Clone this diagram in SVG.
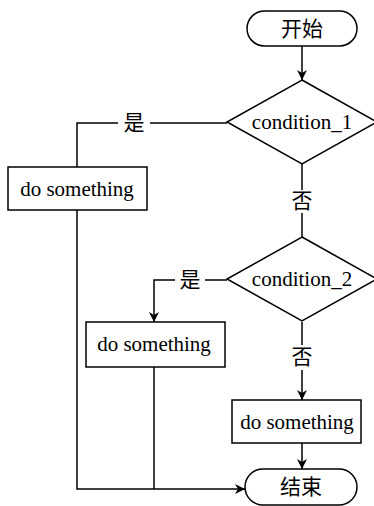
<svg xmlns="http://www.w3.org/2000/svg" width="374" height="506" viewBox="0 0 374 506">
<style>
.s{fill:#fff;stroke:#000;stroke-width:1.5}
.l{fill:none;stroke:#000;stroke-width:1.5}
text{font-family:"Liberation Serif","Noto Sans CJK SC",serif;font-size:21px;fill:#000;text-anchor:middle;dominant-baseline:central}
</style>
<defs>
<marker id="a" viewBox="0 0 10 10" refX="10" refY="5" markerWidth="10" markerHeight="10" markerUnits="userSpaceOnUse" orient="auto">
<path d="M0,0 L10,5 L0,10 L3,5 Z" fill="#000"/>
</marker>
</defs>
<rect width="374" height="506" fill="#fff"/>
<g id="connectors">
<line class="l" x1="302" y1="46" x2="302" y2="80" marker-end="url(#a)"/>
<polyline class="l" points="227,123 150,123"/>
<polyline class="l" points="118,123 77,123 77,167"/>
<line class="l" x1="302" y1="164" x2="302" y2="190"/>
<line class="l" x1="302" y1="213" x2="302" y2="237"/>
<polyline class="l" points="227,280 205,280"/>
<polyline class="l" points="175,280 154,280 154,322" marker-end="url(#a)"/>
<line class="l" x1="302" y1="322" x2="302" y2="345"/>
<line class="l" x1="302" y1="370" x2="302" y2="400" marker-end="url(#a)"/>
<line class="l" x1="302" y1="443" x2="302" y2="469" marker-end="url(#a)"/>
<polyline class="l" points="77,210 77,489 245,489" marker-end="url(#a)"/>
<line class="l" x1="154" y1="367" x2="154" y2="489"/>
<text x="134" y="123">是</text>
<text x="190" y="280">是</text>
<text x="302" y="201">否</text>
<text x="302" y="357">否</text>
</g>
<g id="start">
<rect class="s" x="247" y="11" width="110" height="35" rx="17.5"/>
<text x="302" y="28.5">开始</text>
</g>
<g id="cond1">
<polygon class="s" points="302,80 377,122 302,164 227,122"/>
<text x="302" y="122">condition_1</text>
</g>
<g id="box1">
<rect class="s" x="8" y="167" width="139" height="43"/>
<text x="77" y="188.5">do something</text>
</g>
<g id="cond2">
<polygon class="s" points="302,237 377,279 302,321 227,279"/>
<text x="302" y="279">condition_2</text>
</g>
<g id="box2">
<rect class="s" x="86" y="322" width="139" height="45"/>
<text x="154" y="344">do something</text>
</g>
<g id="box3">
<rect class="s" x="232" y="400" width="129" height="43"/>
<text x="297" y="421.5">do something</text>
</g>
<g id="end">
<rect class="s" x="245" y="469" width="112" height="36" rx="18"/>
<text x="301" y="487">结束</text>
</g>
</svg>
